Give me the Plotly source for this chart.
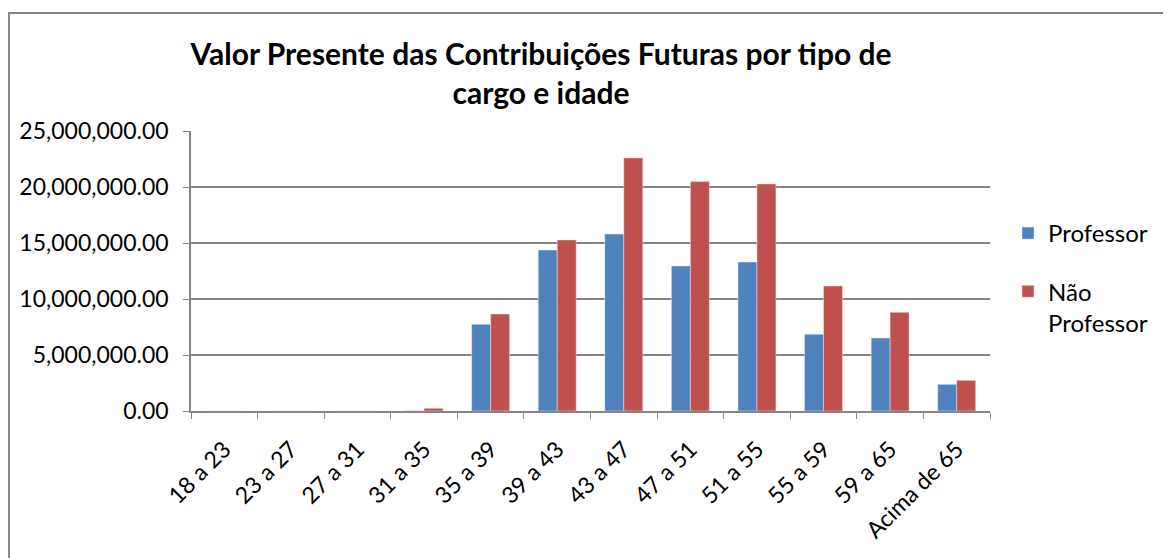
import plotly.graph_objects as go

categories = ["18 a 23", "23 a 27", "27 a 31", "31 a 35", "35 a 39", "39 a 43",
              "43 a 47", "47 a 51", "51 a 55", "55 a 59", "59 a 65", "Acima de 65"]
professor = [0, 0, 0, 20000, 7740000, 14370000, 15800000, 12950000, 13300000,
             6850000, 6520000, 2380000]
nao_professor = [0, 0, 0, 240000, 8660000, 15270000, 22600000, 20480000, 20270000,
                 11160000, 8810000, 2740000]
y_ticks = [0, 5000000, 10000000, 15000000, 20000000, 25000000]

FONT = "Lato"
OFF = 8  # page body margin
W, H = 1171 - OFF, 558 - OFF
L, R, T, B = 191 - OFF, 990 - OFF, 131 - OFF, 411 - OFF


def px_x(px):  # screen px -> paper
    return (px - OFF - L) / (R - L)


def px_y(py):
    return (B - (py - OFF)) / (B - T)


fig = go.Figure()
fig.add_trace(go.Bar(name="Professor", x=categories, y=professor,
                     marker_color="#4F81BD", legendgroup="a"))
fig.add_trace(go.Bar(name="Não<br>Professor", x=categories, y=nao_professor,
                     marker_color="#C0504D", legendgroup="b"))

fig.update_layout(
    width=W, height=H,
    margin=dict(l=L, r=W - R, t=T, b=H - B, pad=0),
    paper_bgcolor="white", plot_bgcolor="white",
    barmode="group", bargap=0.43, bargroupgap=0.0,
    font=dict(family=FONT, color="black", size=23),
    title=dict(text="<b>Valor Presente das Contribuições Futuras por tipo de<br>cargo e idade</b>",
               x=px_x(541), xref="paper", xanchor="center",
               y=1 - 57 / H, yanchor="top",
               font=dict(family=FONT, size=30, color="black")),
    legend=dict(x=px_x(1008), xanchor="left", y=px_y(211), yanchor="top",
                font=dict(family=FONT, size=24), tracegroupgap=24, valign="top",
                itemwidth=30, bgcolor="rgba(0,0,0,0)"),
    xaxis=dict(type="category", tickson="boundaries", ticks="outside", ticklen=6,
               tickcolor="#868686", showline=True, linecolor="#868686", linewidth=1.5,
               tickangle=-45, tickfont=dict(family=FONT, size=23), showgrid=False,
               ticklabelstandoff=14),
    yaxis=dict(range=[0, 25000000], tickvals=y_ticks, tickformat=",.2f",
               ticks="outside", ticklen=6, tickcolor="#868686",
               showline=True, linecolor="#868686", linewidth=1.5,
               showgrid=True, gridcolor="#868686", gridwidth=1.5,
               tickfont=dict(family=FONT, size=23), zeroline=False,
               ticklabelstandoff=10),
    showlegend=True,
)

fig.add_shape(type="rect", xref="paper", yref="paper",
              x0=px_x(9), x1=px_x(1300), y0=px_y(700), y1=px_y(13),
              line=dict(color="#868686", width=2), fillcolor="rgba(0,0,0,0)", layer="below")

fig.write_html("out.html")
